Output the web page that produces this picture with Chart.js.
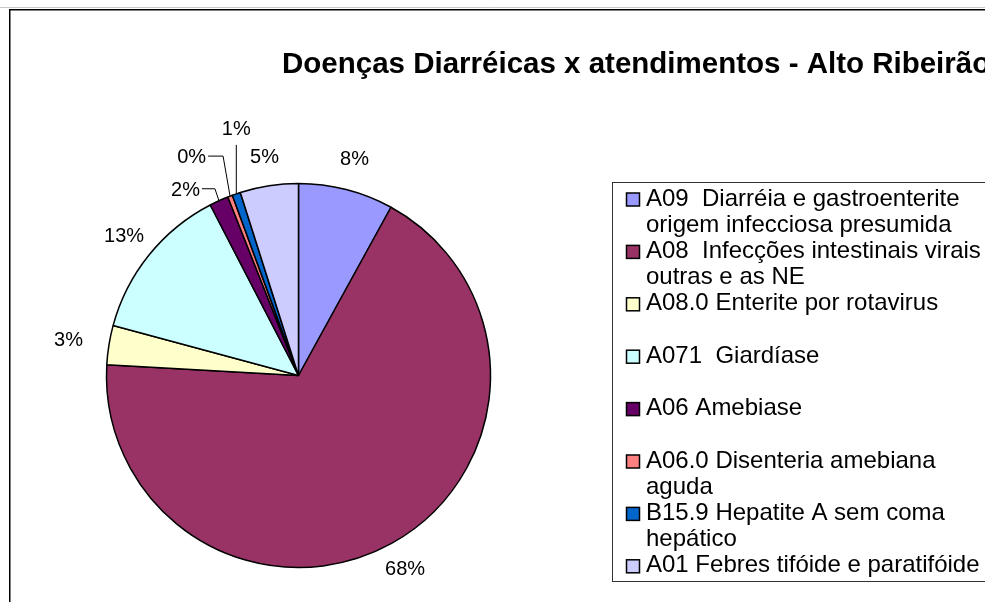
<!DOCTYPE html>
<html><head><meta charset="utf-8">
<script src="https://cdn.jsdelivr.net/npm/chart.js@4.4.0/dist/chart.umd.min.js"></script>
<style>html,body{margin:0;padding:0;background:#fff;overflow:hidden}canvas{display:block}</style>
</head><body>
<canvas id="c" width="985" height="602"></canvas>
<script>
const chartTitle = 'Doenças Diarréicas x atendimentos - Alto Ribeirão';
const categories = [
  'A09  Diarréia e gastroenterite\norigem infecciosa presumida',
  'A08  Infecções intestinais virais\noutras e as NE',
  'A08.0 Enterite por rotavirus',
  'A071  Giardíase',
  'A06 Amebiase',
  'A06.0 Disenteria amebiana\naguda',
  'B15.9 Hepatite A sem coma\nhepático',
  'A01 Febres tifóide e paratifóide'
];
const shares = [8.0, 67.9, 3.3, 13.2, 1.6, 0.4, 0.7, 4.9];
const colors = ['#9999FF','#993366','#FFFFCC','#CCFFFF','#660066','#FF8080','#0066CC','#CCCCFF'];

// label layout (style, not data)
const labelGap = [33, 28, 41, 32, 0, 0, 0, 30];
const leaders = {4: [[-4,-12],[-17,-12]], 5: [[-7,-40],[-22,-40]], 6: [[0,-49]]};

const FONT = '"Liberation Sans", Arial, sans-serif';

const decor = {
  id: 'decor',
  beforeDraw(chart) {
    const ctx = chart.ctx;
    ctx.save();
    ctx.fillStyle = '#fff';
    ctx.fillRect(0, 0, chart.width, chart.height);
    ctx.restore();
  },
  afterDatasetsDraw(chart) {
    const ctx = chart.ctx;
    const meta = chart.getDatasetMeta(0);
    const data = chart.data.datasets[0].data;
    const total = data.reduce((a, b) => a + b, 0);
    ctx.save();
    ctx.font = '20px ' + FONT;
    ctx.fillStyle = '#000';
    ctx.strokeStyle = '#000';
    ctx.lineWidth = 1;
    meta.data.forEach((arc, i) => {
      const p = arc.getProps(['x','y','startAngle','endAngle','outerRadius'], true);
      const mid = (p.startAngle + p.endAngle) / 2;
      const txt = Math.round(data[i] / total * 100) + '%';
      const ex = p.x + Math.cos(mid) * p.outerRadius;
      const ey = p.y + Math.sin(mid) * p.outerRadius;
      const ld = leaders[i];
      if (ld) {
        ctx.beginPath();
        ctx.moveTo(ex, ey);
        ld.forEach(([dx, dy]) => ctx.lineTo(ex + dx, ey + dy));
        ctx.stroke();
        const last = ld[ld.length - 1];
        const lx = ex + last[0], ly = ey + last[1];
        if (ld.length === 1) {
          ctx.textAlign = 'center';
          ctx.fillText(txt, lx, ly - 9.8);
        } else {
          ctx.textAlign = 'right';
          ctx.fillText(txt, lx - 2, ly + 7.2);
        }
      } else {
        const d = p.outerRadius + labelGap[i];
        const cx = p.x + Math.cos(mid) * d;
        const cy = p.y + Math.sin(mid) * d;
        ctx.textAlign = 'center';
        ctx.fillText(txt, cx, cy + 7.2);
      }
    });
    ctx.restore();
  },
  afterDraw(chart) {
    const ctx = chart.ctx;
    ctx.save();
    // outer frame
    ctx.strokeStyle = '#c8c8c8';
    ctx.lineWidth = 1;
    ctx.beginPath(); ctx.moveTo(0, 7.5); ctx.lineTo(985, 7.5); ctx.stroke();
    ctx.strokeStyle = '#000';
    ctx.lineWidth = 1.5;
    ctx.beginPath();
    ctx.moveTo(9.75, 602); ctx.lineTo(9.75, 9.75); ctx.lineTo(985, 9.75);
    ctx.stroke();
    // title
    ctx.fillStyle = '#000';
    ctx.font = 'bold 29.5px ' + FONT;
    ctx.textAlign = 'left';
    ctx.fillText(chartTitle, 282, 73);
    // legend
    const bx = 612.5, by = 182.5, bb = 581.5;
    ctx.strokeStyle = '#333';
    ctx.lineWidth = 1;
    ctx.strokeRect(bx, by, 500, bb - by);
    const labels = chart.data.labels;
    const bg = chart.data.datasets[0].backgroundColor;
    const first = by + 14.5;
    const step = ((bb - 17.7) - first) / (labels.length - 1);
    ctx.font = '24px ' + FONT;
    labels.forEach((lab, i) => {
      const cy = first + i * step;
      ctx.fillStyle = bg[i];
      ctx.fillRect(626.5, cy - 4, 13, 13);
      ctx.strokeStyle = '#000';
      ctx.lineWidth = 1.5;
      ctx.strokeRect(626.5, cy - 4, 13, 13);
      ctx.fillStyle = '#000';
      lab.split('\n').forEach((line, k) => {
        ctx.fillText(line, 646, cy + 8.6 + k * 26);
      });
    });
    ctx.restore();
  }
};

new Chart(document.getElementById('c'), {
  type: 'pie',
  data: {
    labels: categories,
    datasets: [{
      data: shares,
      backgroundColor: colors,
      borderColor: '#000',
      borderWidth: 1.5
    }]
  },
  options: {
    responsive: false,
    devicePixelRatio: 1,
    animation: false,
    radius: 192,
    layout: { padding: { left: 106, top: 183, right: 494, bottom: 34 } },
    plugins: {
      legend: { display: false },
      tooltip: { enabled: false },
      title: { display: false }
    }
  },
  plugins: [decor]
});
</script>
</body></html>
